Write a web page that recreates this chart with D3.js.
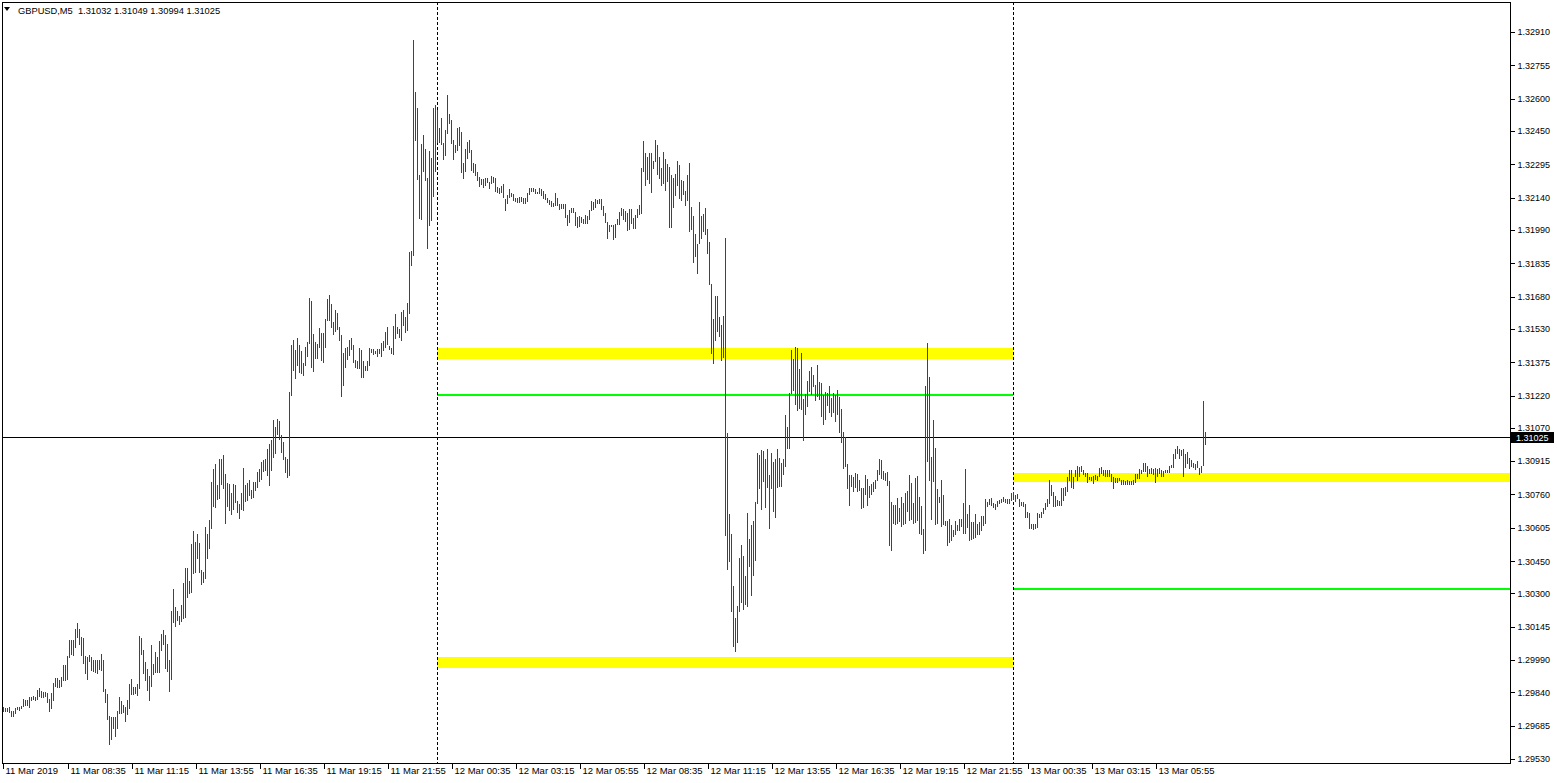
<!DOCTYPE html>
<html><head><meta charset="utf-8">
<script src="https://cdn.jsdelivr.net/npm/d3@7"></script>
<style>
html,body{margin:0;padding:0;background:#fff;overflow:hidden}
svg{display:block}
text{font-family:"Liberation Sans",Arial,sans-serif}
</style></head><body>
<svg id="c" width="1557" height="783"></svg>
<script>
// ---------------- data ----------------
const symbolName = "GBPUSD,M5";
const lastOHLC = [1.31032, 1.31049, 1.30994, 1.31025];
const bidPrice = 1.31025;

const highs = [
1.29774,1.29769,1.29768,1.29772,1.29754,1.29752,1.29768,1.29774,1.29772,1.29777,
1.29809,1.29802,1.29802,1.29816,1.29816,1.29821,1.29817,1.29852,1.29859,1.29844,
1.29842,1.29842,1.29836,1.29811,1.29839,1.29884,1.29907,1.29907,1.29899,1.29912,
1.29968,1.29968,1.30010,1.30084,1.30084,1.30084,1.30134,1.30163,1.30134,1.30096,
1.30092,1.30010,1.30003,1.30014,1.30006,1.29991,1.29991,1.29991,1.29991,1.30017,
1.29991,1.29855,1.29831,1.29730,1.29727,1.29727,1.29724,1.29754,1.29817,1.29800,
1.29780,1.29771,1.29805,1.29879,1.29902,1.29865,1.29864,1.29878,1.30104,1.30092,
1.30037,1.29983,1.29948,1.29917,1.30060,1.29970,1.30026,1.30004,1.30078,1.30109,
1.30130,1.30106,1.30063,1.29990,1.30218,1.30320,1.30235,1.30219,1.30195,1.30246,
1.30348,1.30418,1.30418,1.30357,1.30529,1.30590,1.30537,1.30576,1.30534,1.30409,
1.30399,1.30609,1.30576,1.30641,1.30818,1.30878,1.30901,1.30804,1.30925,1.30925,
1.30943,1.30855,1.30813,1.30808,1.30767,1.30808,1.30804,1.30731,1.30715,1.30767,
1.30883,1.30804,1.30813,1.30827,1.30781,1.30818,1.30818,1.30864,1.30878,1.30911,
1.30920,1.30925,1.30971,1.30994,1.31013,1.31106,1.31073,1.31111,1.31101,1.31036,
1.31002,1.30936,1.30925,1.31237,1.31455,1.31478,1.31432,1.31488,1.31455,1.31426,
1.31372,1.31445,1.31468,1.31674,1.31660,1.31507,1.31468,1.31461,1.31535,1.31512,
1.31510,1.31575,1.31668,1.31687,1.31645,1.31561,1.31617,1.31603,1.31538,1.31502,
1.31417,1.31440,1.31447,1.31478,1.31487,1.31454,1.31385,1.31381,1.31442,1.31431,
1.31380,1.31357,1.31380,1.31442,1.31436,1.31436,1.31428,1.31434,1.31434,1.31465,
1.31473,1.31513,1.31538,1.31450,1.31439,1.31543,1.31598,1.31538,1.31529,1.31608,
1.31617,1.31586,1.31650,1.31888,1.31891,1.32873,1.32631,1.32556,1.32245,1.32389,
1.32431,1.32366,1.32231,1.32356,1.32324,1.32556,1.32570,1.32547,1.32463,1.32511,
1.32396,1.32454,1.32617,1.32529,1.32501,1.32408,1.32383,1.32465,1.32468,1.32445,
1.32301,1.32366,1.32399,1.32408,1.32362,1.32301,1.32296,1.32259,1.32236,1.32227,
1.32227,1.32231,1.32233,1.32214,1.32241,1.32236,1.32233,1.32191,1.32186,1.32194,
1.32203,1.32135,1.32152,1.32180,1.32162,1.32157,1.32140,1.32138,1.32141,1.32143,
1.32140,1.32137,1.32162,1.32186,1.32186,1.32186,1.32182,1.32168,1.32186,1.32182,
1.32172,1.32158,1.32140,1.32131,1.32124,1.32115,1.32163,1.32138,1.32112,1.32110,
1.32110,1.32110,1.32061,1.32084,1.32093,1.32093,1.32073,1.32052,1.32053,1.32052,
1.32042,1.32061,1.32053,1.32084,1.32124,1.32120,1.32132,1.32129,1.32135,1.32133,
1.32101,1.32068,1.32028,1.32012,1.32012,1.32015,1.32019,1.32040,1.32073,1.32091,
1.32087,1.32077,1.32068,1.32087,1.32087,1.32045,1.32059,1.32087,1.32105,1.32276,
1.32403,1.32349,1.32330,1.32349,1.32349,1.32310,1.32408,1.32383,1.32330,1.32280,
1.32352,1.32321,1.32297,1.32282,1.32245,1.32231,1.32248,1.32310,1.32290,1.32222,
1.32215,1.32169,1.32243,1.32302,1.32097,1.32056,1.31972,1.31924,1.32119,1.32056,
1.32062,1.32090,1.31995,1.31932,1.31738,1.31575,1.31681,1.31681,1.31584,1.31550,
1.31588,1.31953,1.31047,1.30667,1.30577,1.30336,1.30186,1.30240,1.30463,1.30526,
1.30475,1.30383,1.30675,1.30554,1.30618,1.30637,1.30725,1.30953,1.30944,1.30967,
1.30962,1.30925,1.30972,1.30851,1.30953,1.30911,1.30925,1.30972,1.30930,1.30907,
1.30925,1.31130,1.31074,1.31232,1.31432,1.31390,1.31446,1.31441,1.31343,1.31418,
1.31204,1.31227,1.31288,1.31334,1.31353,1.31316,1.31269,1.31362,1.31283,1.31279,
1.31223,1.31236,1.31232,1.31264,1.31209,1.31232,1.31223,1.31246,1.31213,1.31158,
1.31051,1.31027,1.30902,1.30851,1.30851,1.30841,1.30860,1.30855,1.30828,1.30790,
1.30790,1.30851,1.30832,1.30800,1.30809,1.30818,1.30828,1.30874,1.30925,1.30920,
1.30870,1.30860,1.30865,1.30823,1.30725,1.30711,1.30711,1.30744,1.30697,1.30750,
1.30719,1.30765,1.30778,1.30851,1.30814,1.30722,1.30838,1.30846,1.30750,1.30704,
1.30598,1.31262,1.31463,1.31306,1.30936,1.31107,1.30976,1.30786,1.30750,1.30826,
1.30756,1.30637,1.30637,1.30645,1.30618,1.30595,1.30637,1.30618,1.30645,1.30645,
1.30722,1.30879,1.30668,1.30711,1.30634,1.30631,1.30668,1.30621,1.30632,1.30659,
1.30659,1.30739,1.30727,1.30741,1.30744,1.30719,1.30714,1.30730,1.30736,1.30741,
1.30747,1.30739,1.30738,1.30738,1.30767,1.30773,1.30756,1.30764,1.30738,1.30727,
1.30727,1.30714,1.30680,1.30676,1.30624,1.30623,1.30624,1.30674,1.30671,1.30677,
1.30696,1.30721,1.30739,1.30828,1.30804,1.30772,1.30753,1.30734,1.30730,1.30790,
1.30790,1.30796,1.30841,1.30874,1.30874,1.30841,1.30874,1.30893,1.30888,1.30893,
1.30874,1.30860,1.30860,1.30841,1.30841,1.30846,1.30851,1.30846,1.30883,1.30888,
1.30874,1.30874,1.30874,1.30874,1.30855,1.30841,1.30837,1.30837,1.30837,1.30828,
1.30828,1.30823,1.30828,1.30823,1.30823,1.30828,1.30855,1.30855,1.30879,1.30874,
1.30907,1.30907,1.30893,1.30879,1.30883,1.30879,1.30883,1.30879,1.30883,1.30874,
1.30869,1.30874,1.30874,1.30893,1.30897,1.30948,1.30972,1.30986,1.30972,1.30967,
1.30972,1.30948,1.30958,1.30930,1.30920,1.30907,1.30902,1.30916,1.30883,1.30893,
1.31195,1.31049];

const lows = [
1.29754,1.29751,1.29751,1.29748,1.29732,1.29731,1.29745,1.29762,1.29759,1.29765,
1.29777,1.29780,1.29779,1.29774,1.29805,1.29808,1.29805,1.29808,1.29825,1.29817,
1.29817,1.29821,1.29797,1.29755,1.29769,1.29805,1.29869,1.29867,1.29867,1.29870,
1.29899,1.29899,1.29902,1.30003,1.30018,1.30015,1.30053,1.30099,1.30064,1.30014,
1.29978,1.29931,1.29903,1.29985,1.29944,1.29941,1.29936,1.29931,1.29948,1.29944,
1.29844,1.29797,1.29715,1.29598,1.29622,1.29676,1.29638,1.29674,1.29743,1.29746,
1.29748,1.29708,1.29738,1.29766,1.29830,1.29830,1.29836,1.29828,1.29861,1.30020,
1.29928,1.29895,1.29852,1.29802,1.29871,1.29925,1.29936,1.29936,1.29934,1.30037,
1.30063,1.29954,1.29940,1.29847,1.29902,1.30168,1.30149,1.30174,1.30159,1.30170,
1.30184,1.30190,1.30285,1.30300,1.30306,1.30395,1.30401,1.30464,1.30399,1.30345,
1.30351,1.30373,1.30464,1.30511,1.30605,1.30706,1.30700,1.30737,1.30743,1.30807,
1.30790,1.30627,1.30706,1.30687,1.30669,1.30692,1.30723,1.30678,1.30652,1.30691,
1.30687,1.30731,1.30732,1.30757,1.30745,1.30749,1.30781,1.30796,1.30821,1.30833,
1.30869,1.30872,1.30852,1.30804,1.30874,1.30932,1.30954,1.31039,1.31018,1.30959,
1.30925,1.30866,1.30843,1.30850,1.31223,1.31339,1.31302,1.31362,1.31330,1.31326,
1.31316,1.31363,1.31405,1.31462,1.31354,1.31335,1.31395,1.31395,1.31447,1.31385,
1.31377,1.31447,1.31572,1.31572,1.31539,1.31507,1.31518,1.31529,1.31479,1.31219,
1.31270,1.31354,1.31389,1.31408,1.31437,1.31374,1.31354,1.31349,1.31349,1.31307,
1.31307,1.31338,1.31338,1.31363,1.31422,1.31413,1.31416,1.31405,1.31417,1.31405,
1.31431,1.31447,1.31459,1.31434,1.31419,1.31414,1.31488,1.31509,1.31493,1.31479,
1.31547,1.31516,1.31526,1.31603,1.31826,1.31873,1.32409,1.32226,1.32045,1.32040,
1.32263,1.32222,1.31907,1.32014,1.32036,1.32149,1.32262,1.32398,1.32398,1.32390,
1.32321,1.32338,1.32442,1.32486,1.32392,1.32321,1.32354,1.32362,1.32383,1.32258,
1.32233,1.32265,1.32326,1.32354,1.32270,1.32261,1.32247,1.32222,1.32196,1.32205,
1.32191,1.32200,1.32211,1.32186,1.32208,1.32214,1.32172,1.32166,1.32163,1.32166,
1.32145,1.32084,1.32117,1.32143,1.32149,1.32131,1.32126,1.32121,1.32121,1.32126,
1.32115,1.32117,1.32126,1.32158,1.32171,1.32172,1.32160,1.32160,1.32160,1.32151,
1.32137,1.32134,1.32120,1.32112,1.32103,1.32101,1.32107,1.32106,1.32087,1.32092,
1.32092,1.32052,1.32014,1.32028,1.32075,1.32075,1.32014,1.32005,1.32007,1.32028,
1.32024,1.32024,1.32020,1.32041,1.32084,1.32086,1.32095,1.32114,1.32117,1.32087,
1.32059,1.32028,1.31950,1.31987,1.32008,1.31947,1.31958,1.32017,1.32019,1.32060,
1.32040,1.32031,1.31991,1.31995,1.32023,1.32000,1.32000,1.32051,1.32065,1.32068,
1.32266,1.32200,1.32226,1.32208,1.32166,1.32280,1.32311,1.32252,1.32231,1.32200,
1.32206,1.32177,1.32218,1.32004,1.32004,1.32097,1.32152,1.32198,1.32139,1.32130,
1.32156,1.32105,1.32127,1.31983,1.31992,1.31842,1.31870,1.31791,1.31927,1.31953,
1.31984,1.31969,1.31882,1.31739,1.31418,1.31369,1.31478,1.31518,1.31495,1.31383,
1.31400,1.30570,1.30412,1.30452,1.30218,1.30054,1.30031,1.30075,1.30218,1.30262,
1.30227,1.30252,1.30241,1.30425,1.30293,1.30386,1.30455,1.30721,1.30790,1.30693,
1.30823,1.30702,1.30795,1.30604,1.30790,1.30683,1.30655,1.30795,1.30800,1.30800,
1.30855,1.30892,1.30976,1.30976,1.31232,1.31246,1.31181,1.31153,1.31162,1.31158,
1.31013,1.31134,1.31171,1.31241,1.31227,1.31264,1.31199,1.31218,1.31204,1.31125,
1.31088,1.31111,1.31176,1.31144,1.31125,1.31144,1.31102,1.31134,1.31051,1.31004,
1.30883,1.30892,1.30790,1.30711,1.30800,1.30776,1.30795,1.30776,1.30781,1.30697,
1.30702,1.30763,1.30711,1.30748,1.30763,1.30776,1.30790,1.30828,1.30855,1.30837,
1.30832,1.30828,1.30804,1.30525,1.30502,1.30628,1.30623,1.30628,1.30637,1.30614,
1.30624,1.30629,1.30683,1.30640,1.30648,1.30629,1.30631,1.30643,1.30580,1.30575,
1.30487,1.30502,1.30917,1.30828,1.30646,1.30823,1.30621,1.30626,1.30727,1.30611,
1.30621,1.30618,1.30527,1.30541,1.30549,1.30569,1.30576,1.30595,1.30595,1.30614,
1.30581,1.30583,1.30609,1.30550,1.30553,1.30556,1.30562,1.30578,1.30576,1.30595,
1.30618,1.30629,1.30704,1.30716,1.30713,1.30702,1.30691,1.30704,1.30722,1.30727,
1.30728,1.30724,1.30722,1.30721,1.30733,1.30738,1.30731,1.30742,1.30708,1.30711,
1.30704,1.30654,1.30654,1.30606,1.30603,1.30601,1.30606,1.30609,1.30657,1.30657,
1.30674,1.30690,1.30708,1.30722,1.30758,1.30708,1.30708,1.30711,1.30711,1.30711,
1.30734,1.30756,1.30776,1.30828,1.30795,1.30790,1.30846,1.30828,1.30846,1.30869,
1.30855,1.30846,1.30818,1.30832,1.30828,1.30814,1.30831,1.30828,1.30846,1.30859,
1.30851,1.30846,1.30846,1.30846,1.30824,1.30790,1.30820,1.30818,1.30828,1.30809,
1.30809,1.30809,1.30809,1.30807,1.30807,1.30809,1.30818,1.30837,1.30837,1.30860,
1.30869,1.30869,1.30846,1.30860,1.30860,1.30855,1.30818,1.30846,1.30860,1.30846,
1.30846,1.30866,1.30866,1.30865,1.30888,1.30888,1.30930,1.30953,1.30930,1.30944,
1.30846,1.30888,1.30907,1.30883,1.30890,1.30888,1.30879,1.30888,1.30855,1.30865,
1.30897,1.30994];

const priceTicks = [1.32910,1.32755,1.32600,1.32450,1.32295,1.32140,1.31990,1.31835,
  1.31680,1.31530,1.31375,1.31220,1.31070,1.30915,1.30760,1.30605,1.30450,1.30300,
  1.30145,1.29990,1.29840,1.29685,1.29530];

const timeTickBars = [-0.5,32,64,96,128,160,192,224,256,288,320,352,384,416,448,480,512,544,576];
const timeTickLabels = ["11 Mar 2019","11 Mar 08:35","11 Mar 11:15","11 Mar 13:55","11 Mar 16:35",
  "11 Mar 19:15","11 Mar 21:55","12 Mar 00:35","12 Mar 03:15","12 Mar 05:55","12 Mar 08:35",
  "12 Mar 11:15","12 Mar 13:55","12 Mar 16:35","12 Mar 19:15","12 Mar 21:55","13 Mar 00:35",
  "13 Mar 03:15","13 Mar 05:55"];

const daySeparatorBars = [217, 505];   // 12 Mar 00:00, 13 Mar 00:00

// analysis levels: [start bar, end bar (null = right edge)], price, kind
const levelStart = [217, 217, 217, 505, 505];
const levelEnd   = [505, 505, 505, null, null];
const levelPrice = [1.31418, 1.31223, 1.29981, 1.30841, 1.30321];
const levelKind  = ["zone", "line", "zone", "zoneR", "line"];

// ---------------- drawing ----------------
const W = 1557, H = 783;
const plot = {left: 2, right: 1510, top: 2, bottom: 763};
const svg = d3.select("#c");

const x = d3.scaleLinear().domain([0, 753.5]).range([3, 1510]);
const y = d3.scaleLinear().domain([1.29530, 1.32910]).range([759, 32]);

const levelStyle = {
  zone:  {color: "#ffff00", width: 11},
  zoneR: {color: "#ffff00", width: 9},
  line:  {color: "#00ff00", width: 2}
};

svg.append("rect").attr("width", W).attr("height", H).attr("fill", "#fff");

svg.append("clipPath").attr("id", "clip").append("rect")
  .attr("x", plot.left).attr("y", plot.top)
  .attr("width", plot.right - plot.left).attr("height", plot.bottom - plot.top);

const g = svg.append("g").attr("clip-path", "url(#clip)");

// levels
levelPrice.forEach((p, i) => {
  const st = levelStyle[levelKind[i]];
  const x0 = x(levelStart[i]);
  const x1 = levelEnd[i] == null ? plot.right : x(levelEnd[i]);
  const yc = Math.round(y(p));
  g.append("rect")
    .attr("x", x0).attr("width", x1 - x0)
    .attr("y", yc - Math.floor(st.width / 2)).attr("height", st.width)
    .attr("fill", st.color).attr("shape-rendering", "crispEdges");
});

// bid line
g.append("line")
  .attr("x1", plot.left).attr("x2", plot.right)
  .attr("y1", Math.round(y(bidPrice)) + 0.5).attr("y2", Math.round(y(bidPrice)) + 0.5)
  .attr("stroke", "#000").attr("stroke-width", 1);

// day separators
g.selectAll("line.sep").data(daySeparatorBars).enter().append("line")
  .attr("class", "sep")
  .attr("x1", d => x(d) + 0.5).attr("x2", d => x(d) + 0.5)
  .attr("y1", plot.top).attr("y2", plot.bottom)
  .attr("stroke", "#000").attr("stroke-width", 1)
  .attr("stroke-dasharray", "3,2").attr("shape-rendering", "crispEdges");

// bars (high-low)
const n = Math.min(highs.length, lows.length);
const bars = d3.range(n).map(i => ({i, h: highs[i], l: lows[i]}));
g.selectAll("rect.bar").data(bars).enter().append("rect")
  .attr("class", "bar")
  .attr("x", d => x(d.i))
  .attr("width", 1)
  .attr("y", d => Math.round(y(d.h)))
  .attr("height", d => Math.max(1, Math.round(y(d.l)) - Math.round(y(d.h)) + 1))
  .attr("fill", "#e00000")
  .attr("shape-rendering", "crispEdges");

// frame
svg.append("rect")
  .attr("x", plot.left + 0.5).attr("y", plot.top + 0.5)
  .attr("width", plot.right - plot.left).attr("height", plot.bottom - plot.top)
  .attr("fill", "none").attr("stroke", "#000").attr("shape-rendering", "crispEdges");

// price axis
const ya = svg.append("g").attr("transform", `translate(${plot.right + 0.5},0)`)
  .call(d3.axisRight(y).tickValues(priceTicks).tickFormat(d3.format(".5f")).tickSize(4).tickPadding(3));
ya.select(".domain").remove();
ya.selectAll("line").attr("stroke", "#000").attr("shape-rendering", "crispEdges");
ya.selectAll("text").attr("font-size", "9px").attr("fill", "#000")
  .attr("font-family", "'Liberation Sans', Arial, sans-serif");

// time axis
const xa = svg.append("g").attr("transform", `translate(0,${plot.bottom + 0.5})`)
  .call(d3.axisBottom(x).tickValues(timeTickBars).tickFormat((d, i) => timeTickLabels[i]).tickSize(5).tickPadding(3));
xa.select(".domain").remove();
xa.selectAll(".tick line").attr("stroke", "#000").attr("transform", "translate(0.5,0)").attr("shape-rendering", "crispEdges");
xa.selectAll("text").attr("font-size", "9.5px").attr("fill", "#000")
  .attr("text-anchor", "start").attr("x", 3).attr("y", 3.5).attr("dy", "0.71em")
  .attr("font-family", "'Liberation Sans', Arial, sans-serif");

// current price label
const yb = Math.round(y(bidPrice));
svg.append("rect").attr("x", plot.right + 1).attr("y", yb - 5).attr("width", 43).attr("height", 11)
  .attr("fill", "#000");
svg.append("text").attr("x", plot.right + 6).attr("y", yb + 4)
  .attr("font-size", "9px").attr("fill", "#fff").text(d3.format(".5f")(bidPrice));

// header
svg.append("path").attr("d", "M4,7 L10,7 L7,11 Z").attr("fill", "#000");
svg.append("text").attr("x", 18).attr("y", 14).attr("font-size", "9.3px").attr("fill", "#000")
  .attr("xml:space", "preserve")
  .text(symbolName + "  " + lastOHLC.map(d3.format(".5f")).join(" "));
</script>
</body></html>
